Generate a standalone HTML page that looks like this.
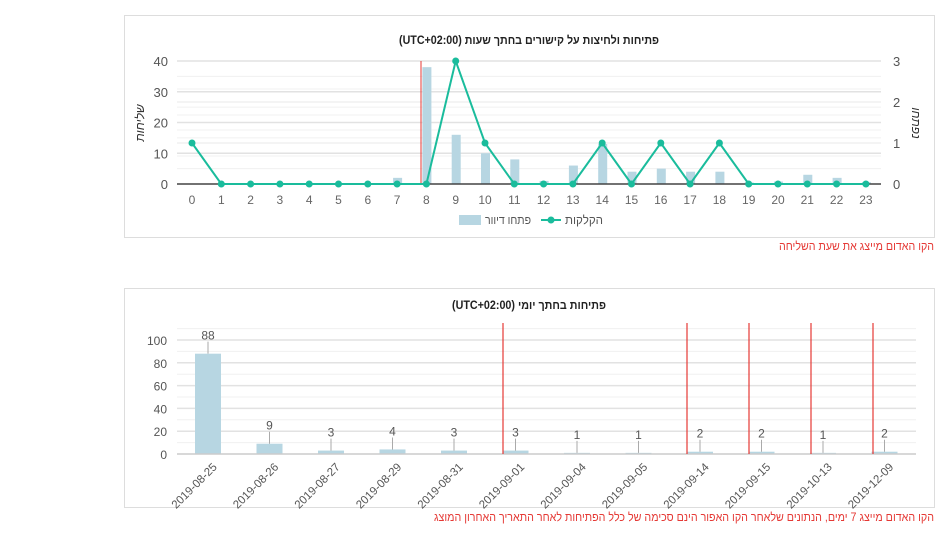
<!DOCTYPE html>
<html><head><meta charset="utf-8"><style>
body{margin:0;background:#fff;width:947px;height:537px;overflow:hidden;font-family:"Liberation Sans","Noto Sans CJK SC",sans-serif}
svg text{font-family:"Liberation Sans","Noto Sans CJK SC",sans-serif}
</style></head><body>
<svg id="s" width="947" height="537" xmlns="http://www.w3.org/2000/svg">
<rect x="124.5" y="15.5" width="810" height="222" fill="#fff" stroke="#ddd"/>
<rect x="124.5" y="288.5" width="810" height="219" fill="#fff" stroke="#ddd"/>
<text x="529" y="44" text-anchor="middle" font-size="11.5" font-weight="bold" fill="#222" direction="rtl" textLength="260" lengthAdjust="spacingAndGlyphs">פתיחות ולחיצות על קישורים בחתך שעות (UTC+02:00)</text>
<text x="934" y="250" text-anchor="start" font-size="12" fill="#e53935" direction="rtl" textLength="155" lengthAdjust="spacingAndGlyphs">הקו האדום מייצג את שעת השליחה</text>
<text x="529" y="309" text-anchor="middle" font-size="11.5" font-weight="bold" fill="#222" direction="rtl" textLength="154" lengthAdjust="spacingAndGlyphs">פתיחות בחתך יומי (UTC+02:00)</text>
<text x="934" y="521" text-anchor="start" font-size="12" fill="#e53935" direction="rtl" textLength="500" lengthAdjust="spacingAndGlyphs">הקו האדום מייצג 7 ימים, הנתונים שלאחר הקו האפור הינם סכימה של כלל הפתיחות לאחר התאריך האחרון המוצג</text>
<text transform="translate(144,123) rotate(-90)" text-anchor="middle" font-size="12" font-style="italic" fill="#333">שליחות</text>
<text transform="translate(912,123) rotate(90)" text-anchor="middle" font-size="12" font-style="italic" fill="#333">נפתחו</text>
<g id="g"></g>
</svg>
<script>
var g=document.getElementById('g'),h='';
function L(x1,y1,x2,y2,c,w){h+='<line x1="'+x1+'" y1="'+y1+'" x2="'+x2+'" y2="'+y2+'" stroke="'+c+'" stroke-width="'+(w||1)+'"/>';}
function T(x,y,t,a,s,c,ex){h+='<text x="'+x+'" y="'+y+'" text-anchor="'+a+'" font-size="'+s+'" fill="'+c+'" '+(ex||'')+'>'+t+'</text>';}
var y0=184,py=3.075;
for(var v=5;v<=40;v+=5){var y=y0-v*py;L(177,y,881,y,v%10?'#f0f0f0':'#e2e2e2',v%10?1:1.5);}
[1,2].forEach(function(k){var y=y0-k*41;L(177,y,881,y,'#e8e8e8',1);L(177,y-13,881,y-13,'#f2f2f2',1);L(177,y+13,881,y+13,'#f2f2f2',1)});
for(var v=0;v<=40;v+=10)T(168,y0-v*py+5,v,'end',13,'#555');
for(var k=0;k<=3;k++)T(893,y0-k*41+5,k,'start',13,'#555');
var bars={7:2,8:38,9:16,10:10,11:8,12:1,13:6,14:13,15:4,16:5,17:4,18:4,19:0.5,20:0.8,21:3,22:2,23:0.6};
var X=function(i){return 192+i*29.3};
for(var i in bars){h+='<rect x="'+(X(+i)-4)+'" y="'+(y0-bars[i]*py)+'" width="9" height="'+(bars[i]*py)+'" fill="#b7d6e2"/>';}
L(177,y0,881,y0,'#444',1.5);
L(421,61,421,184,'#e53935',1);
var lv=[1,0,0,0,0,0,0,0,0,3,1,0,0,0,1,0,1,0,1,0,0,0,0,0],pts=[];
for(var i=0;i<24;i++){pts.push(X(i)+','+(y0-lv[i]*41));T(X(i),204,i,'middle',12,'#666');}
h+='<polyline points="'+pts.join(' ')+'" fill="none" stroke="#1abc9c" stroke-width="2"/>';
for(var i=0;i<24;i++)h+='<circle cx="'+X(i)+'" cy="'+(y0-lv[i]*41)+'" r="3.5" fill="#1abc9c"/>';
h+='<rect x="459" y="215" width="22" height="10" fill="#b7d6e2"/>';
T(531,224,'פתחו דיוור','start',12,'#555','direction="rtl" textLength="46" lengthAdjust="spacingAndGlyphs"');
L(541,220,561,220,'#1abc9c',2);h+='<circle cx="551" cy="220" r="3.5" fill="#1abc9c"/>';
T(603,224,'הקלקות','start',12,'#555','direction="rtl" textLength="38" lengthAdjust="spacingAndGlyphs"');
var b0=454,bp=1.14;
for(var v=10;v<=110;v+=10){var y=b0-v*bp;L(177,y,916,y,v%20?'#f0f0f0':'#e2e2e2',v%20?1:1.5);}
for(var v=0;v<=100;v+=20)T(167,b0-v*bp+5,v,'end',12,'#555');
var d=[['2019-08-25',88],['2019-08-26',9],['2019-08-27',3],['2019-08-29',4],['2019-08-31',3],['2019-09-01',3],['2019-09-04',1],['2019-09-05',1],['2019-09-14',2],['2019-09-15',2],['2019-10-13',1],['2019-12-09',2]];
d.forEach(function(e,i){var c=208+i*61.5,v=e[1],top=b0-v*bp;
h+='<rect x="'+(c-13)+'" y="'+top+'" width="26" height="'+(v*bp)+'" fill="#b7d6e2"/>';
L(c,top,c,top-12,'#aaa',1);T(c,top-14,v,'middle',12,'#555');
T(c+4,462,e[0],'end',11.5,'#555','transform="rotate(-45 '+(c+4)+' 462)" dy="0.7em"');});
L(177,b0,916,b0,'#ccc',1.5);
[503,687,749,811,873].forEach(function(x){L(x,323,x,454,'#e53935',1.2)});
g.innerHTML=h;
</script>
</body></html>
